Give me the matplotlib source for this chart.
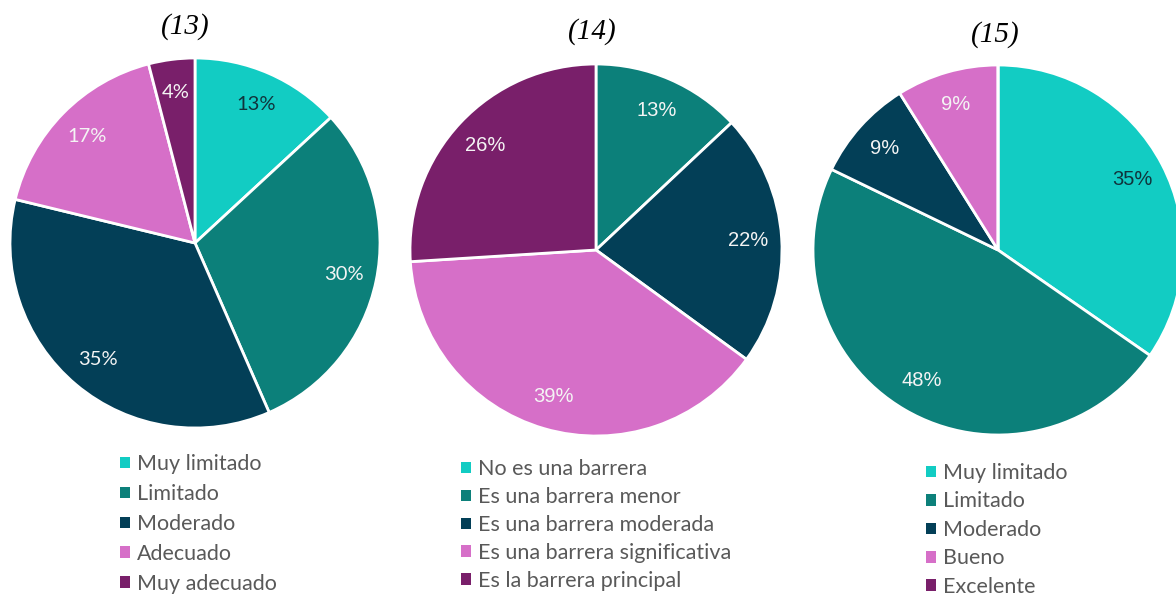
import matplotlib
matplotlib.use('Agg')
import matplotlib.pyplot as plt

# survey answers, percentage per option
titles = ['(13)', '(14)', '(15)']

labels_13 = ['Muy limitado', 'Limitado', 'Moderado', 'Adecuado', 'Muy adecuado']
values_13 = [13, 30, 35, 17, 4]

labels_14 = ['No es una barrera', 'Es una barrera menor', 'Es una barrera moderada',
             'Es una barrera significativa', 'Es la barrera principal']
values_14 = [0, 13, 22, 39, 26]

labels_15 = ['Muy limitado', 'Limitado', 'Moderado', 'Bueno', 'Excelente']
values_15 = [35, 48, 9, 9, 0]

colors = ['#12CCC3', '#0C807A', '#033F57', '#D66FC8', '#791F6A']
dark_text = '#10343C'

W, H = 1176, 596
fig = plt.figure(figsize=(W / 100, H / 100), dpi=100)
fig.patch.set_facecolor('white')

# pixel layout: pie centre, radius, title position, legend anchor, label font
panels = [
    dict(cx=195, cy=243, r=185, tx=185, ty=27, lx=120, ly=454, lsp=30,
         pfont='Lato', dark=[0]),
    dict(cx=596, cy=250, r=186, tx=592, ty=32, lx=461, ly=459, lsp=28,
         pfont='Liberation Sans', dark=[]),
    dict(cx=998, cy=250, r=185, tx=995, ty=35, lx=926, ly=463, lsp=28.5,
         pfont='Liberation Sans', dark=[0]),
]
data = [(labels_13, values_13), (labels_14, values_14), (labels_15, values_15)]


def px_axes(cx, cy, r):
    return fig.add_axes([(cx - r) / W, (H - cy - r) / H, 2 * r / W, 2 * r / H])


for title, (cats, vals), p in zip(titles, data, panels):
    ax = px_axes(p['cx'], p['cy'], p['r'])
    pct = ['%d%%' % v if v > 0 else '' for v in vals]
    wedges, texts = ax.pie(vals, labels=pct, colors=colors, startangle=90,
                           counterclock=False, radius=1, labeldistance=0.82,
                           wedgeprops=dict(edgecolor='white', linewidth=2.0))
    # pie() pads the limits, make the circle fill the axes instead
    ax.set_xlim(-1, 1)
    ax.set_ylim(-1, 1)
    ax.set_aspect('auto')
    ax.axis('off')
    for w in wedges:
        w.set_clip_on(False)
    for i, t in enumerate(texts):
        t.set_ha('center')
        t.set_va('center')
        t.set_fontfamily(p['pfont'])
        t.set_fontsize(14.5)
        t.set_color(dark_text if i in p['dark'] else '#F4F4F4')

    fig.text(p['tx'] / W, 1 - p['ty'] / H, title, ha='center', va='center',
             fontfamily='Liberation Serif', fontstyle='italic', fontsize=21)

    fs = 15.5
    fs_px = fs * 100 / 72
    leg = fig.legend(wedges, cats, loc='upper left',
                     bbox_to_anchor=(p['lx'] / W, 1 - p['ly'] / H),
                     frameon=False, borderpad=0, borderaxespad=0,
                     handlelength=0.45, handleheight=0.45, handletextpad=0.35,
                     labelspacing=(p['lsp'] - 0.93 * fs_px) / fs_px,
                     prop=dict(family='Lato', size=fs))
    for t in leg.get_texts():
        t.set_color('#595959')
    for h in leg.legend_handles:
        h.set_edgecolor('none')
        h.set_linewidth(0)

fig.savefig('out.png', dpi=100, facecolor='white')
